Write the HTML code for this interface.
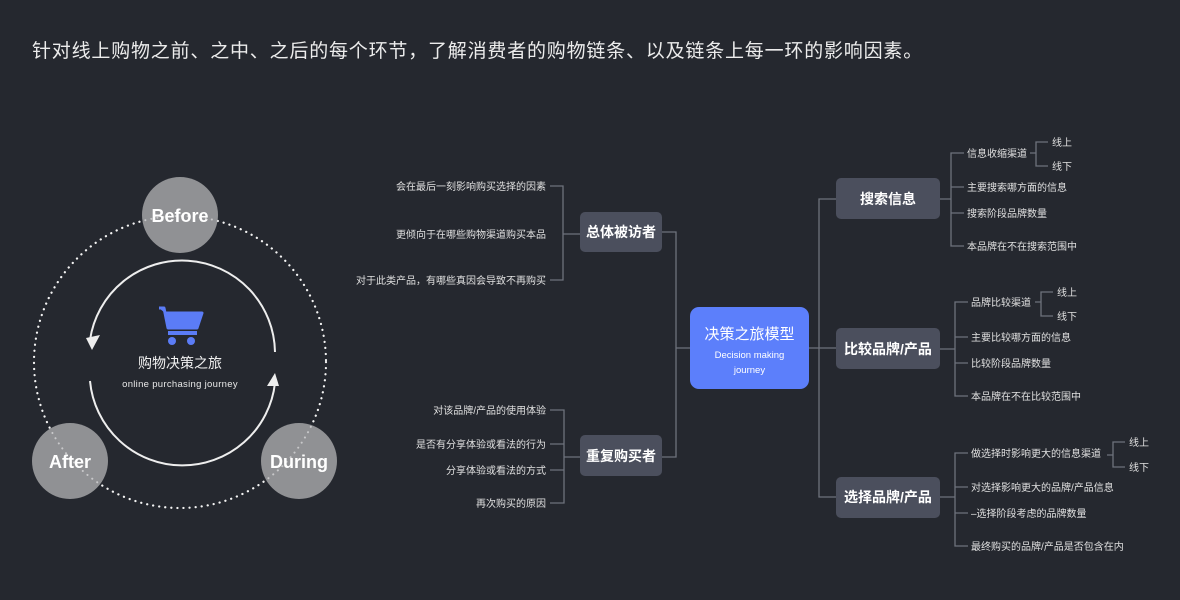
<!DOCTYPE html>
<html><head><meta charset="utf-8"><style>
html,body{margin:0;padding:0;background:#25282f;}
svg{display:block}
text{font-family:"Liberation Sans","Noto Sans CJK SC",sans-serif;}
</style></head><body>
<svg width="1180" height="600" viewBox="0 0 1180 600" xmlns="http://www.w3.org/2000/svg">
<rect width="1180" height="600" fill="#25282f"/>
<text x="32" y="57" font-size="19" fill="#ececec" letter-spacing="0.8">针对线上购物之前、之中、之后的每个环节，了解消费者的购物链条、以及链条上每一环的影响因素。</text>

<!-- left cycle -->
<circle cx="180" cy="362" r="146" fill="none" stroke="#e8e8e8" stroke-width="2.2" stroke-dasharray="0.1 6" stroke-linecap="round"/>
<circle cx="180" cy="215" r="38" fill="#909194"/>
<circle cx="70" cy="461" r="38" fill="#909194"/>
<circle cx="299" cy="461" r="38" fill="#909194"/>
<circle cx="180" cy="362" r="146" fill="none" stroke="#ffffff" stroke-opacity="0.5" stroke-width="2" stroke-dasharray="0.1 6" stroke-linecap="round"/>
<text x="180" y="222" font-size="18" font-weight="bold" fill="#fff" text-anchor="middle">Before</text>
<text x="70" y="468" font-size="18" font-weight="bold" fill="#fff" text-anchor="middle">After</text>
<text x="299" y="468" font-size="18" font-weight="bold" fill="#fff" text-anchor="middle">During</text>

<path d="M275 352 A93 93 0 0 0 90 340" fill="none" stroke="#eee" stroke-width="2"/>
<polygon points="86,338 100,335 92,350" fill="#eee"/>
<path d="M90 381 A93 93 0 0 0 275 383" fill="none" stroke="#eee" stroke-width="2"/>
<polygon points="267,386 279,386 275,373" fill="#eee"/>

<!-- cart -->
<path d="M159 308 H164 L168 328 H197 L202 313 H165" fill="#5b7cf6" stroke="#5b7cf6" stroke-width="3" stroke-linejoin="round"/>
<rect x="168" y="331" width="29" height="4" fill="#5b7cf6"/>
<circle cx="172" cy="341" r="4" fill="#5b7cf6"/>
<circle cx="191" cy="341" r="4" fill="#5b7cf6"/>
<text x="180" y="368" font-size="14" fill="#f0f0f0" text-anchor="middle">购物决策之旅</text>
<text x="180" y="387" font-size="9.5" fill="#e8e8e8" text-anchor="middle" letter-spacing="0.3">online purchasing journey</text>

<!-- connectors -->
<g fill="none" stroke="#6e727c" stroke-width="1.3">
<path d="M690 348 H676 M662 232 H676 V457 H662"/>
<path d="M550 186 H563 V280 H550 M563 234 H580"/>
<path d="M550 410 H564 V503 H550 M550 444 H564 M550 470 H564 M564 457 H580"/>
<path d="M809 348 H836 M836 199 H819 V497 H836"/>
<path d="M940 199 H951 M964 153 H951 V246 H964 M951 187 H964 M951 213 H964"/>
<path d="M1030 153 H1036 M1048 142 H1036 V166 H1048"/>
<path d="M940 349 H955 M968 302 H955 V396 H968 M955 337 H968 M955 363 H968"/>
<path d="M1035 302 H1041 M1053 292 H1041 V316 H1053"/>
<path d="M940 497 H955 M968 453 H955 V546 H968 M955 487 H968 M955 513 H968"/>
<path d="M1107 455 H1113 M1125 442 H1113 V467 H1125"/>
</g>

<!-- nodes -->
<rect x="690" y="307" width="119" height="82" rx="9" fill="#5c7ffb"/>
<text x="749.5" y="339" font-size="15" fill="#fff" text-anchor="middle">决策之旅模型</text>
<text x="749.5" y="358" font-size="9.5" fill="#fff" text-anchor="middle">Decision making</text>
<text x="749.5" y="373" font-size="9.5" fill="#fff" text-anchor="middle">journey</text>

<g fill="#4b4f5d">
<rect x="580" y="212" width="82" height="40" rx="5"/>
<rect x="580" y="435" width="82" height="41" rx="5"/>
<rect x="836" y="178" width="104" height="41" rx="5"/>
<rect x="836" y="328" width="104" height="41" rx="5"/>
<rect x="836" y="477" width="104" height="41" rx="5"/>
</g>
<g font-size="14" fill="#fff" text-anchor="middle" font-weight="bold">
<text x="621" y="237">总体被访者</text>
<text x="621" y="461">重复购买者</text>
<text x="888" y="204">搜索信息</text>
<text x="888" y="354">比较品牌/产品</text>
<text x="888" y="502">选择品牌/产品</text>
</g>

<g font-size="10" fill="#e0e0e0">
<g text-anchor="end">
<text x="546" y="190">会在最后一刻影响购买选择的因素</text>
<text x="546" y="238">更倾向于在哪些购物渠道购买本品</text>
<text x="546" y="284">对于此类产品，有哪些真因会导致不再购买</text>
<text x="546" y="414">对该品牌/产品的使用体验</text>
<text x="546" y="448">是否有分享体验或看法的行为</text>
<text x="546" y="474">分享体验或看法的方式</text>
<text x="546" y="507">再次购买的原因</text>
</g>
<text x="967" y="157">信息收缩渠道</text>
<text x="1052" y="146">线上</text>
<text x="1052" y="170">线下</text>
<text x="967" y="191">主要搜索哪方面的信息</text>
<text x="967" y="217">搜索阶段品牌数量</text>
<text x="967" y="250">本品牌在不在搜索范围中</text>
<text x="971" y="306">品牌比较渠道</text>
<text x="1057" y="296">线上</text>
<text x="1057" y="320">线下</text>
<text x="971" y="341">主要比较哪方面的信息</text>
<text x="971" y="367">比较阶段品牌数量</text>
<text x="971" y="400">本品牌在不在比较范围中</text>
<text x="971" y="457">做选择时影响更大的信息渠道</text>
<text x="1129" y="446">线上</text>
<text x="1129" y="471">线下</text>
<text x="971" y="491">对选择影响更大的品牌/产品信息</text>
<text x="971" y="517">–选择阶段考虑的品牌数量</text>
<text x="971" y="550">最终购买的品牌/产品是否包含在内</text>
</g>
</svg>
</body></html>
